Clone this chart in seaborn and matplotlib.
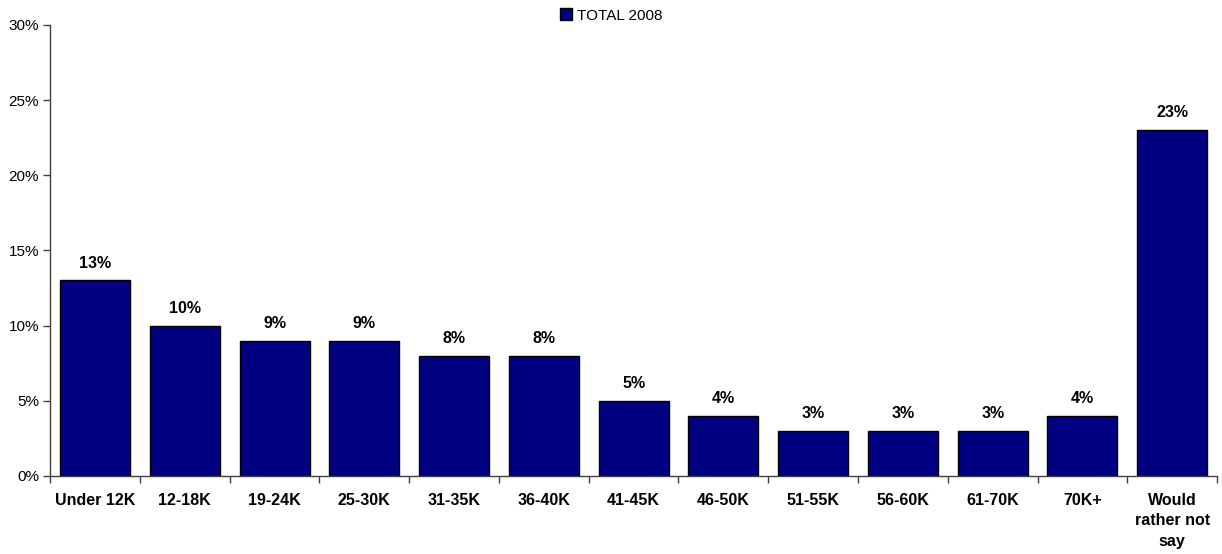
import numpy as np
import pandas as pd
import seaborn as sns
import matplotlib.pyplot as plt
from matplotlib.ticker import FixedLocator, PercentFormatter

# datos
categories = ["Under 12K", "12-18K", "19-24K", "25-30K", "31-35K", "36-40K",
              "41-45K", "46-50K", "51-55K", "56-60K", "61-70K", "70K+",
              "Would\nrather not\nsay"]
values = [13, 10, 9, 9, 8, 8, 5, 4, 3, 3, 3, 4, 23]
series_name = "TOTAL 2008"

df = pd.DataFrame({"cat": categories, "pct": values})

sns.set_theme(style="white")
plt.rcParams["font.family"] = ["Liberation Sans", "DejaVu Sans"]
plt.rcParams["text.color"] = "black"
plt.rcParams["xtick.color"] = "black"
plt.rcParams["ytick.color"] = "black"

fig = plt.figure(figsize=(12.22, 5.54), dpi=100)
ax = fig.add_axes([0.041, 0.141, 0.955, 0.814])

sns.barplot(data=df, x="cat", y="pct", color="#000080", saturation=1,
            edgecolor="black", linewidth=1, width=0.78, label=series_name, ax=ax)

ax.set_ylim(0, 30)
ax.set_xlim(-0.5, len(categories) - 0.5)
ax.set_yticks(np.arange(0, 31, 5))
ax.yaxis.set_major_formatter(PercentFormatter(decimals=0))
ax.set_xlabel("")
ax.set_ylabel("")

# etiquetas de valores
ax.bar_label(ax.containers[0], labels=[f"{v}%" for v in values],
             padding=7, fontsize=11.5, fontweight="bold", color="black")

# ticks en los límites entre categorías
ax.xaxis.set_minor_locator(FixedLocator(np.arange(-0.5, len(categories), 1)))
ax.tick_params(axis="x", which="major", length=0, pad=12, labelsize=11.5)
ax.tick_params(axis="x", which="minor", length=5, width=1, color="#404040", direction="out", bottom=True)
ax.tick_params(axis="y", which="major", length=5, width=1, color="#404040", direction="out",
               left=True, labelsize=11, pad=3)
for lab in ax.get_xticklabels():
    lab.set_fontweight("bold")
    lab.set_linespacing(1.47)
    lab.set_verticalalignment("top")

for s in ["top", "right"]:
    ax.spines[s].set_visible(False)
for s in ["left", "bottom"]:
    ax.spines[s].set_color("#404040")
    ax.spines[s].set_linewidth(1)

if ax.legend_:
    ax.legend_.remove()
handles, labels = ax.get_legend_handles_labels()
fig.legend(handles[:1], labels[:1], loc="center", bbox_to_anchor=(0.5, 0.972),
           frameon=False, fontsize=11, handlelength=0.8, handleheight=0.8,
           handletextpad=0.3, borderpad=0)

fig.savefig("out.png", dpi=100, facecolor="white")
